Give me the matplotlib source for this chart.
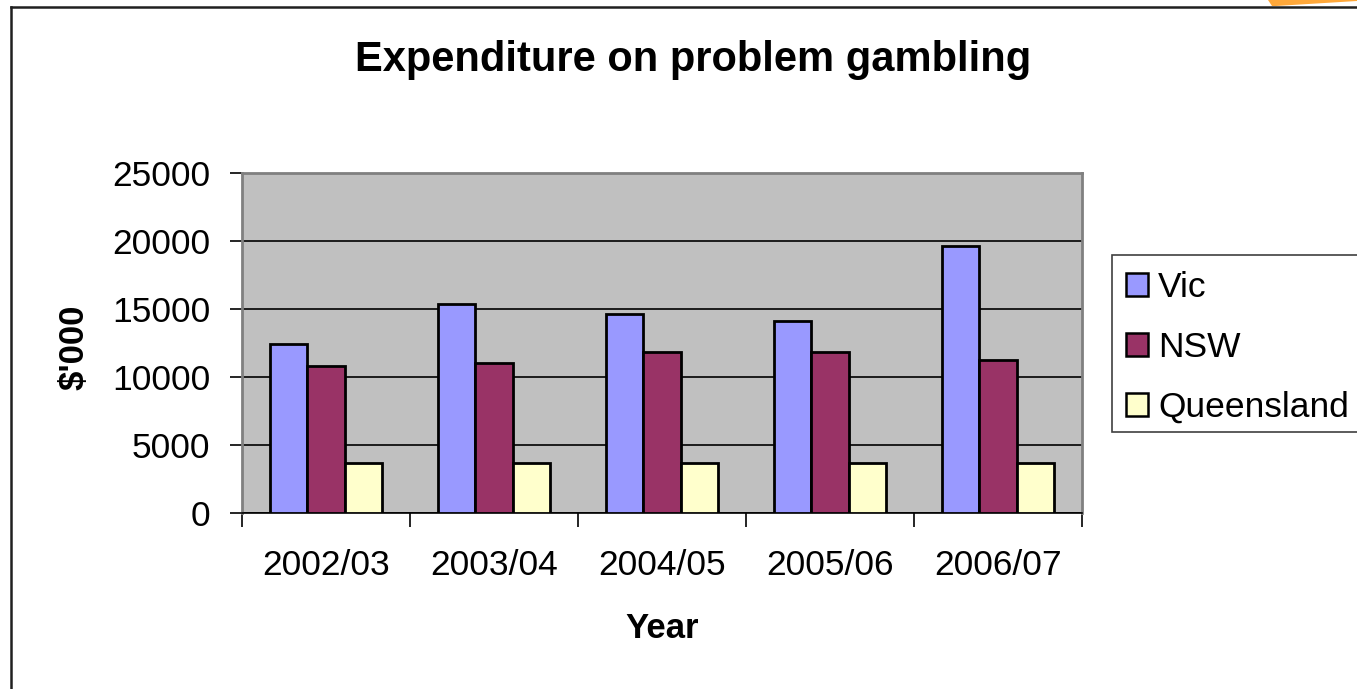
import numpy as np
import matplotlib.pyplot as plt
from matplotlib.patches import Rectangle, Polygon
from matplotlib.lines import Line2D

plt.rcParams['font.family'] = ['Liberation Sans', 'DejaVu Sans']

# Datos
years = ['2002/03', '2003/04', '2004/05', '2005/06', '2006/07']
vic = [12450, 15400, 14600, 14150, 19600]
nsw = [10800, 11050, 11850, 11850, 11250]
qld = [3700, 3700, 3700, 3700, 3700]
series_names = ['Vic', 'NSW', 'Queensland']
colores = ['#9999FF', '#993366', '#FFFFCC']

W, H = 1357, 689
fig = plt.figure(figsize=(W / 100, H / 100), dpi=100)

ax = fig.add_axes([242 / W, 1 - 513 / H, 840 / W, 340 / H])
ax.set_facecolor('#C0C0C0')

x = np.arange(len(years))
ancho = 1 / 4.5
for k, (vals, col) in enumerate(zip([vic, nsw, qld], colores)):
    ax.bar(x + (k - 1) * ancho, vals, ancho, color=col, edgecolor='black',
           linewidth=2, zorder=3)

ax.set_xlim(-0.5, len(years) - 0.5)
ax.set_ylim(0, 25000)
ax.set_yticks(np.arange(0, 25001, 5000))
ax.yaxis.grid(True, color='black', linewidth=1.2, zorder=1)
ax.set_axisbelow(True)

ax.set_xticks(x)
ax.set_xticklabels(years)
ax.set_xticks(np.arange(-0.5, len(years)), minor=True)
ax.tick_params(axis='x', which='major', length=0, pad=26, labelsize=25.5)
ax.tick_params(axis='x', which='minor', length=10, width=1.2, direction='out')
ax.tick_params(axis='y', length=9, width=1.2, direction='out', pad=14, labelsize=25.5)

for s in ['left', 'top', 'right']:
    ax.spines[s].set_color('#808080')
    ax.spines[s].set_linewidth(2)
ax.spines['bottom'].set_color('black')
ax.spines['bottom'].set_linewidth(1.2)

fig.text(0.511, 1 - 60 / H, 'Expenditure on problem gambling', ha='center',
         va='center', fontsize=30, fontweight='bold')
fig.text(74 / W, 1 - 347 / H, "$'000", rotation=90, ha='center', va='center',
         fontsize=25, fontweight='bold')
fig.text(662 / W, 1 - 628 / H, 'Year', ha='center', va='center',
         fontsize=25, fontweight='bold')

# Leyenda
fig.patches.append(Rectangle((1112 / W, 1 - 432 / H), 0.3, 177 / H,
                             transform=fig.transFigure, facecolor='white',
                             edgecolor='#404040', linewidth=1.2))
handles = [Rectangle((0, 0), 1, 1, facecolor=c, edgecolor='black', linewidth=1.8)
           for c in colores]
fig.legend(handles, series_names, loc='upper left',
           bbox_to_anchor=(1122 / W, 1 - 267 / H), frameon=False,
           fontsize=25.5, handlelength=0.62, handleheight=0.62, handletextpad=0.3,
           labelspacing=0.77, borderaxespad=0, borderpad=0.1)

# Marco del grafico
fig.add_artist(Line2D([11 / W, 11 / W], [0, 1 - 7 / H], transform=fig.transFigure,
                      color='#202020', linewidth=1.8))
fig.add_artist(Line2D([11 / W, 1], [1 - 7 / H, 1 - 7 / H], transform=fig.transFigure,
                      color='#202020', linewidth=1.8))
fig.patches.append(Polygon([(1268 / W, 1), (1, 1), (1, 1 - 1 / H), (1276 / W, 1 - 6 / H),
                            (1272 / W, 1 - 6 / H)], closed=True,
                           transform=fig.transFigure, facecolor='#FFA83A',
                           edgecolor='none'))

fig.savefig('out.png', dpi=100)
